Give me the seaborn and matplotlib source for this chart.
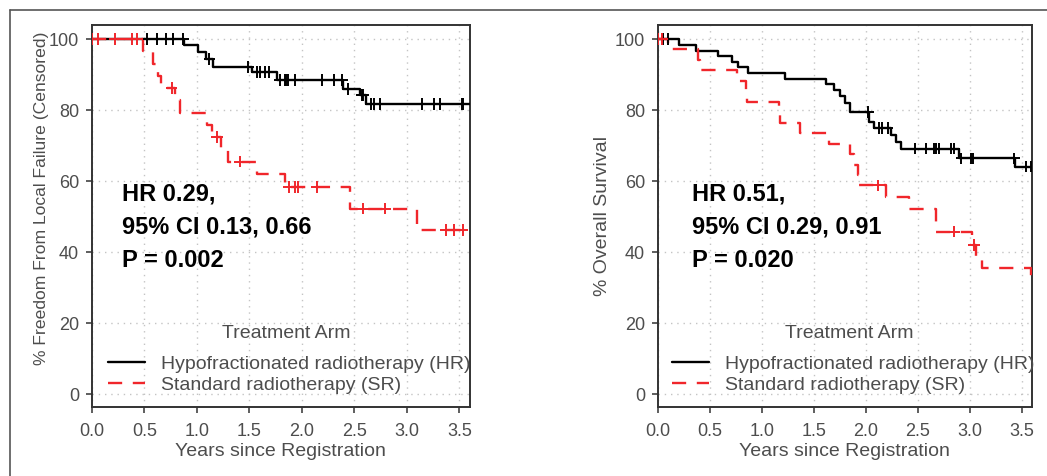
import numpy as np
import pandas as pd
import matplotlib
matplotlib.use("Agg")
import matplotlib.pyplot as plt
from matplotlib.lines import Line2D
import seaborn as sns

# left panel: freedom from local failure
lf_hr_time = [0, 0.88, 1.01, 1.09, 1.15, 1.53, 1.76, 2.39, 2.55, 2.61, 3.65]
lf_hr_surv = [100, 98.3, 96.4, 94.4, 92.2, 90.8, 88.5, 86.0, 84.2, 81.8, 81.8]
lf_hr_cens = [0.53, 0.62, 0.71, 0.77, 0.87, 1.12, 1.49, 1.57, 1.60, 1.65, 1.69, 1.79,
              1.84, 1.85, 1.87, 1.93, 2.19, 2.31, 2.38, 2.44, 2.57, 2.58, 2.66, 2.69,
              2.74, 3.14, 3.26, 3.31, 3.52, 3.53]
lf_sr_time = [0, 0.49, 0.58, 0.63, 0.66, 0.79, 0.84, 1.10, 1.14, 1.23, 1.30, 1.57,
              1.84, 2.46, 3.10, 3.65]
lf_sr_surv = [100, 96.6, 93.1, 89.7, 86.2, 82.8, 79.3, 75.9, 72.4, 69.0, 65.5, 62.1,
              58.3, 52.3, 46.2, 46.2]
lf_sr_cens = [0.0, 0.06, 0.22, 0.38, 0.43, 0.76, 1.19, 1.41, 1.88, 1.93, 1.96, 2.14,
              2.58, 2.79, 3.37, 3.45, 3.53]

# right panel: overall survival
os_hr_time = [0, 0.20, 0.37, 0.58, 0.71, 0.77, 0.87, 1.22, 1.62, 1.70, 1.75, 1.80,
              1.85, 2.03, 2.08, 2.24, 2.29, 2.34, 2.90, 3.44, 3.65]
os_hr_surv = [100, 98.3, 96.7, 95.2, 93.6, 92.1, 90.5, 88.8, 87.3, 85.7, 84.1, 82.1,
              79.5, 76.8, 74.9, 73.0, 71.1, 69.2, 66.4, 64.1, 64.1]
os_hr_cens = [0.05, 0.10, 2.02, 2.13, 2.16, 2.21, 2.47, 2.58, 2.66, 2.68, 2.71, 2.82,
              2.85, 2.92, 3.01, 3.03, 3.43, 3.54, 3.59]
os_sr_time = [0, 0.10, 0.39, 0.41, 0.76, 0.85, 0.86, 1.17, 1.18, 1.37, 1.65, 1.85,
              1.89, 1.93, 1.94, 2.20, 2.42, 2.68, 3.02, 3.06, 3.12, 3.59, 3.65]
os_sr_surv = [100, 97.1, 94.1, 91.2, 88.2, 85.3, 82.4, 79.4, 76.5, 73.5, 70.6, 67.6,
              64.7, 61.8, 58.8, 55.6, 52.3, 45.8, 42.0, 38.7, 35.5, 31.3, 31.3]
os_sr_cens = [0.0, 0.04, 2.12, 2.85, 3.04]

arms = ["HR", "SR"]
arm_labels = ["Hypofractionated radiotherapy (HR)", "Standard radiotherapy (SR)"]
arm_colors = {"HR": "black", "SR": "#f0262b"}
arm_dashes = {"HR": "", "SR": (6, 4.5)}

stats_left = ["HR 0.29,", "95% CI 0.13, 0.66", "P = 0.002"]
stats_right = ["HR 0.51,", "95% CI 0.29, 0.91", "P = 0.020"]

sns.set_style("white")
plt.rcParams["font.family"] = ["Liberation Sans", "DejaVu Sans"]
grey = "#4d4d4d"


def step_at(times, surv, t):
    idx = np.searchsorted(times, t, side="right") - 1
    return np.asarray(surv)[idx]


def km_panel(ax, hr_t, hr_s, hr_c, sr_t, sr_s, sr_c, stats, ylabel, ylab_pos, ylab_size,
             text_x, title_x):
    curves = pd.DataFrame({
        "time": hr_t + sr_t,
        "surv": hr_s + sr_s,
        "arm": ["HR"] * len(hr_t) + ["SR"] * len(sr_t),
    })
    sns.lineplot(data=curves, x="time", y="surv", hue="arm", style="arm",
                 palette=arm_colors, dashes=arm_dashes, drawstyle="steps-post",
                 estimator=None, sort=False, linewidth=1.7, legend=False, ax=ax, zorder=3)
    cens = pd.DataFrame({
        "time": hr_c + sr_c,
        "surv": list(step_at(hr_t, hr_s, hr_c)) + list(step_at(sr_t, sr_s, sr_c)),
        "arm": ["HR"] * len(hr_c) + ["SR"] * len(sr_c),
    })
    sns.scatterplot(data=cens, x="time", y="surv", hue="arm", palette=arm_colors,
                    marker="+", s=70, linewidth=1.4, legend=False, ax=ax, zorder=4)

    ax.set_xlim(0, 3.6)
    ax.set_ylim(-3.5, 104)
    ax.set_xticks(np.arange(0, 3.6, 0.5))
    ax.set_xticklabels([f"{v:.1f}" for v in np.arange(0, 3.6, 0.5)])
    ax.set_yticks([0, 20, 40, 60, 80, 100])
    ax.grid(True, linestyle=(0, (1, 3.5)), color="#c4c4c4", linewidth=1.0)
    ax.set_axisbelow(True)
    for sp in ax.spines.values():
        sp.set_color("#333333")
        sp.set_linewidth(1.4)
    ax.tick_params(direction="out", length=4, width=1.1, color="#333333",
                   labelcolor=grey, labelsize=13, bottom=True, left=True)
    ax.tick_params(axis="x", pad=8)
    ax.tick_params(axis="y", pad=5)
    ax.set_xlabel("Years since Registration", fontsize=14, color=grey, labelpad=2)
    ax.set_ylabel(ylabel, fontsize=ylab_size, color=grey)
    ax.yaxis.set_label_coords(*ylab_pos)

    for line, y in zip(stats, [54.7, 45.3, 35.8]):
        ax.text(text_x, y, line, fontsize=17, fontweight="bold", color="black",
                va="baseline", ha="left", zorder=5)

    ax.text(title_x, 0.193, "Treatment Arm", transform=ax.transAxes, fontsize=14,
            color=grey, ha="center", va="center")
    handles = [Line2D([], [], color=arm_colors[a], linewidth=1.7,
                      dashes=arm_dashes[a] if arm_dashes[a] else (None, None))
               for a in arms]
    leg = ax.legend(handles, arm_labels, frameon=False,
                    loc="center", bbox_to_anchor=(0.522, 0.084), fontsize=14,
                    handlelength=1.9, handletextpad=0.82,
                    labelspacing=0.2, borderpad=0.1)
    for t in leg.get_texts():
        t.set_color(grey)


fig = plt.figure(figsize=(10.47, 4.76), dpi=100)
ax1 = fig.add_axes([0.0876, 0.1456, 0.3613, 0.802])
ax2 = fig.add_axes([0.6282, 0.1456, 0.3575, 0.802])

km_panel(ax1, lf_hr_time, lf_hr_surv, lf_hr_cens, lf_sr_time, lf_sr_surv, lf_sr_cens,
         stats_left, "% Freedom From Local Failure (Censored)", (-0.113, 0.547), 12.6,
         0.285, 0.513)
km_panel(ax2, os_hr_time, os_hr_surv, os_hr_cens, os_sr_time, os_sr_surv, os_sr_cens,
         stats_right, "% Overall Survival", (-0.125, 0.5), 14, 0.326, 0.511)

# outer frame of the figure panel (top and left edges)
fig.add_artist(Line2D([10 / 1047, 1.0], [1 - 10 / 476] * 2, color="#555555", linewidth=1.2))
fig.add_artist(Line2D([10 / 1047] * 2, [0.0, 1 - 10 / 476], color="#555555", linewidth=1.2))

fig.savefig("out.png", dpi=100)
